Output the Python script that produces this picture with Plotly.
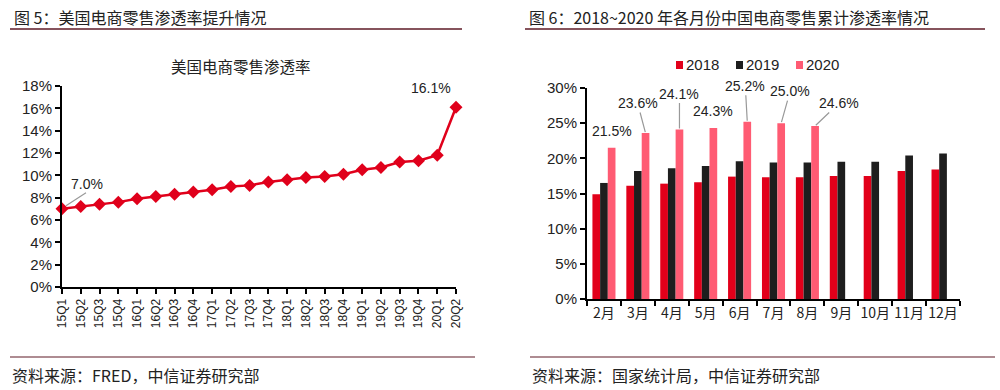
import plotly.graph_objects as go

# ---------------- data ----------------
quarters = ["15Q1", "15Q2", "15Q3", "15Q4", "16Q1", "16Q2", "16Q3", "16Q4",
            "17Q1", "17Q2", "17Q3", "17Q4", "18Q1", "18Q2", "18Q3", "18Q4",
            "19Q1", "19Q2", "19Q3", "19Q4", "20Q1", "20Q2"]
us_rate = [7.0, 7.2, 7.4, 7.6, 7.9, 8.1, 8.3, 8.5, 8.7, 9.0, 9.1, 9.4,
           9.6, 9.8, 9.9, 10.1, 10.5, 10.7, 11.2, 11.3, 11.8, 16.1]

months = ["2月", "3月", "4月", "5月", "6月", "7月", "8月", "9月", "10月", "11月", "12月"]
cn_2018 = [14.9, 16.1, 16.4, 16.6, 17.4, 17.3, 17.3, 17.5, 17.5, 18.2, 18.4]
cn_2019 = [16.5, 18.2, 18.6, 18.9, 19.6, 19.4, 19.4, 19.5, 19.5, 20.4, 20.7]
cn_2020 = [21.5, 23.6, 24.1, 24.3, 25.2, 25.0, 24.6]
years = ["2018", "2019", "2020"]

us_ticks = [0, 2, 4, 6, 8, 10, 12, 14, 16, 18]
cn_ticks = [0, 5, 10, 15, 20, 25, 30]

# ---------------- styling ----------------
RED = "#E0001B"
COLORS = ["#E2001A", "#1E1E1E", "#FF5B73"]
TXT = "#222222"
LEAD = "#999999"
FONT = "Liberation Sans, Arial, Noto Sans CJK SC, sans-serif"
CJK = "Noto Sans CJK SC, sans-serif"
W, H = 1000, 390


def px(x):
    return x / W


def py(y):
    return 1 - y / H


fig = go.Figure()

# left line chart
fig.add_trace(go.Scatter(
    x=quarters, y=us_rate, mode="lines+markers",
    line=dict(color=RED, width=2.5),
    marker=dict(symbol="diamond", size=10, color=RED),
    xaxis="x", yaxis="y", showlegend=False, cliponaxis=False,
))

# right grouped bars
for name, vals, col in zip(years, [cn_2018, cn_2019, cn_2020], COLORS):
    fig.add_trace(go.Bar(
        x=months[:len(vals)], y=vals, name=name, marker=dict(color=col, line=dict(width=0)),
        xaxis="x2", yaxis="y2", showlegend=False,
    ))

bargap = 0.32
bw = (1 - bargap) / 3

annotations = []
shapes = []
# left chart annotations
annotations.append(dict(x=0, y=us_rate[0], xref="x", yref="y", text=f"{us_rate[0]:.1f}%",
                        showarrow=False, xshift=25, yshift=25,
                        font=dict(family=FONT, size=14, color=TXT)))
# leader line for first point (pixel-sized, anchored to data point)
shapes.append(dict(type="line", xref="x", yref="y", xsizemode="pixel", ysizemode="pixel",
                   xanchor=0, yanchor=us_rate[0], x0=4, y0=3, x1=24, y1=16,
                   line=dict(color=LEAD, width=1.2)))
annotations.append(dict(x=len(us_rate) - 1, y=us_rate[-1], xref="x", yref="y",
                        text=f"{us_rate[-1]:.1f}%", showarrow=False,
                        xshift=-25, yshift=19,
                        font=dict(family=FONT, size=14, color=TXT)))
# right chart annotations (pixel offsets of labels from bar tops)
offsets = [(0, -17, False), (-8, -30, True), (0, -36, True), (0, -17, False),
           (-2, -36, True), (9, -32, True), (24, -23, True)]
for i, v in enumerate(cn_2020):
    ax_, ay_, show = offsets[i]
    annotations.append(dict(x=i + bw, y=v, xref="x2", yref="y2", text=f"{v:.1f}%",
                            showarrow=True, arrowhead=0,
                            arrowcolor=LEAD if show else "rgba(0,0,0,0)",
                            arrowwidth=1.2, ax=ax_, ay=ay_, standoff=1,
                            font=dict(family=FONT, size=14, color=TXT)))

# custom compact legend
leg_x = [676, 736, 796]
for lx, name, col in zip(leg_x, years, COLORS):
    shapes.append(dict(type="rect", xref="paper", yref="paper",
                       x0=px(lx), x1=px(lx + 7), y0=py(69), y1=py(61),
                       fillcolor=col, line=dict(width=0)))
    annotations.append(dict(x=px(lx + 8), y=py(65), xref="paper", yref="paper",
                            xanchor="left", yanchor="middle", text=name, showarrow=False,
                            font=dict(family=FONT, size=15, color=TXT)))

# headers / footers / chart title
annotations += [
    dict(x=px(12), y=py(17), xref="paper", yref="paper", xanchor="left", yanchor="middle",
         text="图 5：美国电商零售渗透率提升情况", showarrow=False,
         font=dict(family=CJK, size=16, color=TXT)),
    dict(x=px(527), y=py(17), xref="paper", yref="paper", xanchor="left", yanchor="middle",
         text="图 6：2018~2020 年各月份中国电商零售累计渗透率情况", showarrow=False,
         font=dict(family=CJK, size=16, color=TXT)),
    dict(x=px(241), y=py(66), xref="paper", yref="paper", xanchor="center", yanchor="middle",
         text="美国电商零售渗透率", showarrow=False,
         font=dict(family=CJK, size=15.5, color=TXT)),
    dict(x=px(10), y=py(375), xref="paper", yref="paper", xanchor="left", yanchor="middle",
         text="资料来源：FRED，中信证券研究部", showarrow=False,
         font=dict(family=CJK, size=16, color=TXT)),
    dict(x=px(530), y=py(375), xref="paper", yref="paper", xanchor="left", yanchor="middle",
         text="资料来源：国家统计局，中信证券研究部", showarrow=False,
         font=dict(family=CJK, size=16, color=TXT)),
]

LINEC = "#5E1A26"
shapes += [
    dict(type="line", xref="paper", yref="paper", x0=px(10), x1=px(462), y0=py(29), y1=py(29),
         line=dict(color=LINEC, width=1.5)),
    dict(type="line", xref="paper", yref="paper", x0=px(525), x1=px(985), y0=py(29), y1=py(29),
         line=dict(color=LINEC, width=1.5)),
    dict(type="line", xref="paper", yref="paper", x0=px(10), x1=px(475), y0=py(357), y1=py(357),
         line=dict(color=LINEC, width=1.2)),
    dict(type="line", xref="paper", yref="paper", x0=px(530), x1=px(995), y0=py(357), y1=py(357),
         line=dict(color=LINEC, width=1.2)),
]

axis_common = dict(showgrid=False, zeroline=False, showline=True, linecolor="#000000",
                   linewidth=2, ticks="outside", tickcolor="#000000", tickwidth=1.5, ticklen=5,
                   automargin=False)

fig.update_layout(
    width=W, height=H, margin=dict(l=0, r=0, t=0, b=0),
    paper_bgcolor="white", plot_bgcolor="white",
    barmode="group", bargap=bargap, bargroupgap=0,
    font=dict(family=FONT, color=TXT),
    showlegend=False,
    xaxis=dict(**axis_common, domain=[px(62), px(456)], type="category",
               range=[0, len(quarters) - 1], tickangle=-90,
               tickfont=dict(family=FONT, size=12, color=TXT), anchor="y"),
    yaxis=dict(**axis_common, domain=[py(287), py(86)], range=[0, 18],
               tickvals=us_ticks, ticktext=[f"{t}%" for t in us_ticks],
               tickfont=dict(family=FONT, size=15, color=TXT), anchor="x"),
    xaxis2=dict(**axis_common, domain=[px(587), px(960)], type="category",
                range=[-0.5, len(months) - 0.5], tickson="boundaries", tickangle=0,
                tickfont=dict(family=CJK, size=14, color=TXT), anchor="y2"),
    yaxis2=dict(**axis_common, domain=[py(299), py(88)], range=[0, 30],
                tickvals=cn_ticks, ticktext=[f"{t}%" for t in cn_ticks],
                tickfont=dict(family=FONT, size=15, color=TXT), anchor="x2"),
    annotations=annotations, shapes=shapes,
)

fig.write_html("out.html", config={"displayModeBar": False},
               post_script="document.body.style.margin='0';document.body.style.overflow='hidden';")
